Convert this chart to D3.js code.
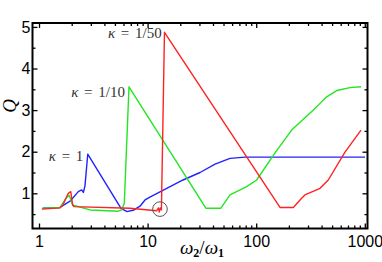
<!DOCTYPE html>
<html>
<head>
<meta charset="utf-8">
<title>Q vs omega ratio</title>
<script src="https://d3js.org/d3.v7.min.js"></script>
<style>
body { margin:0; background:#fff; }
.frame { fill:none; stroke:#000; stroke-width:2px; }
.axis path { display:none; }
.axis line { stroke:#000; stroke-width:1.3px; }
.axis text { font-family:"Liberation Sans", Arial, sans-serif; font-size:16px; fill:#000; }
.curve { fill:none; stroke-width:1.4px; stroke-linejoin:round; }
.klabel { font-family:"Liberation Serif", serif; font-size:15px; fill:#333; word-spacing:2px; }
</style>
</head>
<body>
<div id="chart"></div>
<script>

// curves: [omega2/omega1, Q]
var kappa1 = [
  [1.08,0.64],[1.56,0.66],[1.93,0.81],[2.30,1.04],[2.47,1.08],[2.56,1.02],[2.65,1.18],
  [2.81,1.94],[5.69,0.64],[6.46,0.56],[7.50,0.60],[8.51,0.69],[9.47,0.84],[10.5,0.91],
  [21.2,1.32],[30.4,1.50],[41.8,1.70],[57.4,1.84],[78.9,1.87],[1004,1.87]
]
var kappa10 = [
  [1.08,0.64],[1.56,0.66],[1.80,0.91],[1.90,0.95],[2.04,0.72],[2.95,0.60],[5.37,0.57],
  [5.77,0.60],[6.10,0.76],[6.74,3.56],[34.5,0.64],[47.1,0.64],[57.4,0.96],[81.7,1.16],
  [101,1.32],[149,1.97],[212,2.52],[336,3.00],[373,3.12],[446,3.32],[551,3.47],
  [731,3.54],[923,3.56]
]
var kappa50 = [
  [1.06,0.62],[1.56,0.65],[1.66,0.72],[1.86,1.00],[1.96,1.04],[2.04,0.72],[2.10,0.68],
  [6.88,0.64],[12.1,0.58],[12.6,0.65],[12.8,0.55],[13.1,0.65],[13.4,0.60],[14.3,4.87],
  [165.6,0.66],[219.6,0.66],[262,0.88],[281,0.96],[387,1.12],[461,1.32],[657,1.99],
  [923,2.52]
]

var curveColors = ["#2222ff", "#22e622", "#ff2222"]
var kappaLabels = ["1", "1/10", "1/50"]
var labelX = [2.56, 6.19, 13.5]
var labelY = [1.78, 3.32, 4.74]

var markX = 13.0, markY = 0.62

var xMajor = [1, 10, 100, 1000]
var xMajorLabels = ["1", "10", "100", "1000"]
var xMinor = [2,3,4,5,6,7,8,9, 20,30,40,50,60,70,80,90, 200,300,400,500,600,700,800,900]
var yMajor = [1, 2, 3, 4, 5]
var yMinor = [0.5, 1.5, 2.5, 3.5, 4.5]

size = {width:382, height:262}
margin = {top:23, right:14.5, bottom:33.5, left:32.5}

var svg = d3.select("#chart").append("svg")
    .attr("width", size.width)
    .attr("height", size.height)

xScale = d3.scaleLog()
    .domain([0.871, 1059])
    .range([margin.left, size.width - margin.right])

yScale = d3.scaleLinear()
    .domain([0.154, 5.094])
    .range([size.height - margin.bottom, margin.top])

var bottom = size.height - margin.bottom
var right = size.width - margin.right

//ticks, all pointing into the frame
svg.append("g").attr("class","axis")
    .attr("transform","translate(0," + bottom + ")")
    .call(d3.axisBottom(xScale).tickValues(xMajor).tickFormat(function(d,i){ return xMajorLabels[i] })
        .tickSize(-5).tickPadding(7))

svg.append("g").attr("class","axis")
    .attr("transform","translate(0," + bottom + ")")
    .call(d3.axisBottom(xScale).tickValues(xMinor).tickFormat("").tickSize(-3))

svg.append("g").attr("class","axis")
    .attr("transform","translate(0," + margin.top + ")")
    .call(d3.axisTop(xScale).tickValues(xMajor).tickFormat("").tickSize(-5))

svg.append("g").attr("class","axis")
    .attr("transform","translate(0," + margin.top + ")")
    .call(d3.axisTop(xScale).tickValues(xMinor).tickFormat("").tickSize(-3))

svg.append("g").attr("class","axis")
    .attr("transform","translate(" + margin.left + ",0)")
    .call(d3.axisLeft(yScale).tickValues(yMajor).tickFormat(d3.format("d")).tickSize(-5).tickPadding(2))

svg.append("g").attr("class","axis")
    .attr("transform","translate(" + margin.left + ",0)")
    .call(d3.axisLeft(yScale).tickValues(yMinor).tickFormat("").tickSize(-3))

svg.append("g").attr("class","axis")
    .attr("transform","translate(" + right + ",0)")
    .call(d3.axisRight(yScale).tickValues(yMajor).tickFormat("").tickSize(-5))

svg.append("g").attr("class","axis")
    .attr("transform","translate(" + right + ",0)")
    .call(d3.axisRight(yScale).tickValues(yMinor).tickFormat("").tickSize(-3))

var valueline = d3.line()
    .x(function(d) { return xScale(d[0]) })
    .y(function(d) { return yScale(d[1]) })

var allCurves = [kappa1, kappa10, kappa50]

svg.append("g").selectAll("path")
    .data(allCurves)
    .enter().append("path")
    .attr("class","curve")
    .attr("d", valueline)
    .attr("stroke", function(d,i){ return curveColors[i] })

svg.append("rect")
    .attr("class","frame")
    .attr("x", margin.left)
    .attr("y", margin.top)
    .attr("width", right - margin.left)
    .attr("height", bottom - margin.top)

//curve labels
for (i = 0; i < kappaLabels.length; i++) {
    var t = svg.append("text")
        .attr("class","klabel")
        .attr("x", xScale(labelX[i]))
        .attr("y", yScale(labelY[i]))
        .attr("text-anchor","end")
    t.append("tspan").attr("font-style","italic").text("κ")
    t.append("tspan").text(" = " + kappaLabels[i])
}

//circled spot on the red curve
svg.append("circle")
    .attr("cx", xScale(markX))
    .attr("cy", yScale(markY))
    .attr("r", 7.3)
    .attr("fill","none")
    .attr("stroke","#555")
    .attr("stroke-width",1)

//axis titles
var xt = svg.append("text")
    .attr("x", (margin.left + right)/2 + 2)
    .attr("y", 253.5)
    .attr("text-anchor","middle")
    .style("font-family","Liberation Serif, serif")
    .style("font-size","19px")
xt.append("tspan").attr("font-style","italic").text("ω")
xt.append("tspan").attr("font-weight","bold").attr("font-size","12px").attr("dy",3).text("2")
xt.append("tspan").attr("dy",-3).text("/")
xt.append("tspan").attr("font-style","italic").text("ω")
xt.append("tspan").attr("font-weight","bold").attr("font-size","12px").attr("dy",3).text("1")

svg.append("text")
    .attr("transform","translate(16," + yScale(3.1) + ") rotate(-90)")
    .attr("text-anchor","middle")
    .style("font-family","Liberation Serif, serif")
    .style("font-style","italic")
    .style("font-size","19px")
    .text("Q")

</script>
</body>
</html>
